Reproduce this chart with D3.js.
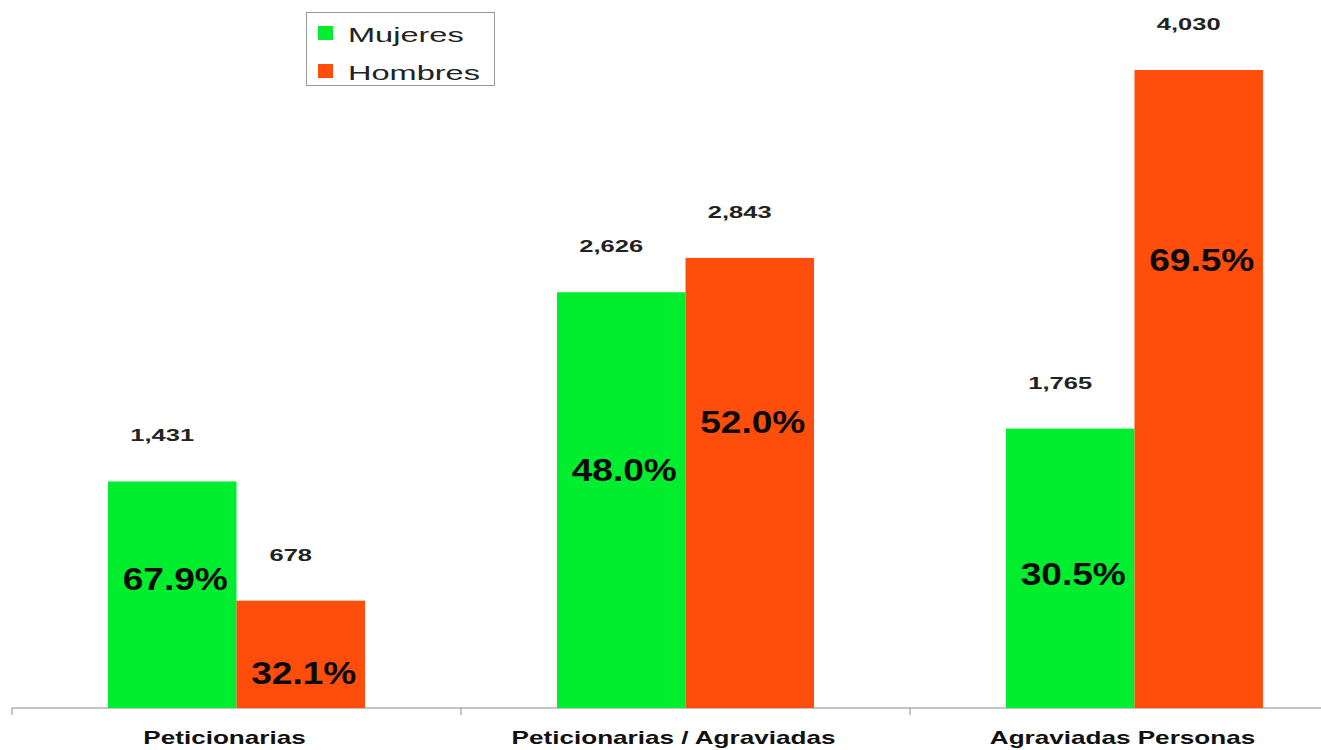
<!DOCTYPE html>
<html>
<head>
<meta charset="utf-8">
<script src="https://cdn.jsdelivr.net/npm/d3@7"></script>
<style>
  html, body { margin: 0; padding: 0; background: #fff; }
  svg { display: block; font-family: 'Liberation Sans', Arial, sans-serif; }
</style>
</head>
<body>
<div id="chart"></div>
<script>
const categories = ['Peticionarias', 'Peticionarias / Agraviadas', 'Agraviadas Personas'];
const series = ['Mujeres', 'Hombres'];
const mujeres = [1431, 2626, 1765];
const hombres = [678, 2843, 4030];
const mujeresPct = ['67.9%', '48.0%', '30.5%'];
const hombresPct = ['32.1%', '52.0%', '69.5%'];

const W = 1321, H = 750;
const colors = { Mujeres: '#00ee2e', Hombres: '#ff4d0c' };

// where the percentage sits inside each bar (fraction of bar height), tuned to the picture
const pctFrac = { Mujeres: [0.574, 0.575, 0.484], Hombres: [0.336, 0.638, 0.704] };

const rows = categories.map((c, i) => ({
  cat: c,
  vals: [
    { s: 'Mujeres', v: mujeres[i], pct: mujeresPct[i], f: pctFrac.Mujeres[i] },
    { s: 'Hombres', v: hombres[i], pct: hombresPct[i], f: pctFrac.Hombres[i] },
  ],
}));

const svg = d3.select('#chart').append('svg')
  .attr('width', W).attr('height', H);

const x0 = d3.scaleBand().domain(categories).range([12, 1359]).padding(0);
const x1 = d3.scaleBand().domain(series).range([0, x0.bandwidth()])
  .paddingInner(0).paddingOuter(0.747);
const y = d3.scaleLinear().domain([0, 4030]).range([708, 70]);

// stretched text helper (the original lettering is wide)
function wideText(g, txt, x, yy, size, weight, sx, fill) {
  return g.append('text')
    .attr('transform', `translate(${x},${yy}) scale(${sx},1)`)
    .attr('text-anchor', 'middle')
    .attr('font-size', size)
    .attr('font-weight', weight)
    .attr('fill', fill)
    .text(txt);
}

// axis
const axis = d3.axisBottom(x0).tickSize(0).tickFormat('');
const axG = svg.append('g').attr('transform', 'translate(0,708)').call(axis);
axG.select('.domain').attr('stroke', '#8a8a8a').attr('d', `M12,0H${W}`);
const boundaries = categories.map((c) => x0(c));
axG.selectAll('.bound').data(boundaries).enter().append('line')
  .attr('x1', (d) => d).attr('x2', (d) => d)
  .attr('y1', 0).attr('y2', 7)
  .attr('stroke', '#8a8a8a');

// category labels
const catG = svg.append('g');
categories.forEach((c) => {
  wideText(catG, c, x0(c) + x0.bandwidth() / 2 - 12, 744, 18, 'bold', 1.45, '#111');
});

// bars
const groups = svg.selectAll('.grp').data(rows).enter().append('g')
  .attr('transform', (d) => `translate(${x0(d.cat)},0)`);

groups.selectAll('rect').data((d) => d.vals).enter().append('rect')
  .attr('x', (d) => x1(d.s))
  .attr('y', (d) => y(d.v))
  .attr('width', x1.bandwidth())
  .attr('height', (d) => y(0) - y(d.v))
  .attr('fill', (d) => colors[d.s]);

// value labels above the bars, percentages inside
groups.each(function (d) {
  const g = d3.select(this);
  d.vals.forEach((v) => {
    const cx = x1(v.s) + x1.bandwidth() / 2 - 10;
    wideText(g, d3.format(',')(v.v), cx, y(v.v) - 40, 17, 'bold', 1.5, '#222');
    const py = y(0) - (y(0) - y(v.v)) * v.f;
    wideText(g, v.pct, x1(v.s) + x1.bandwidth() / 2 + 3, py + 12, 32, 'bold', 1.16, '#0a0a0a');
  });
});

// legend
const leg = svg.append('g');
leg.append('rect')
  .attr('x', 306.5).attr('y', 12.5).attr('width', 188).attr('height', 73)
  .attr('fill', '#fff').attr('stroke', '#9a9a9a');
series.forEach((s, i) => {
  leg.append('rect')
    .attr('x', 318).attr('y', 26 + i * 38).attr('width', 15).attr('height', 14)
    .attr('fill', colors[s]);
  leg.append('text')
    .attr('transform', `translate(348,${42 + i * 38}) scale(1.55,1)`)
    .attr('font-size', 21)
    .attr('fill', '#222')
    .text(s);
});
</script>
</body>
</html>
